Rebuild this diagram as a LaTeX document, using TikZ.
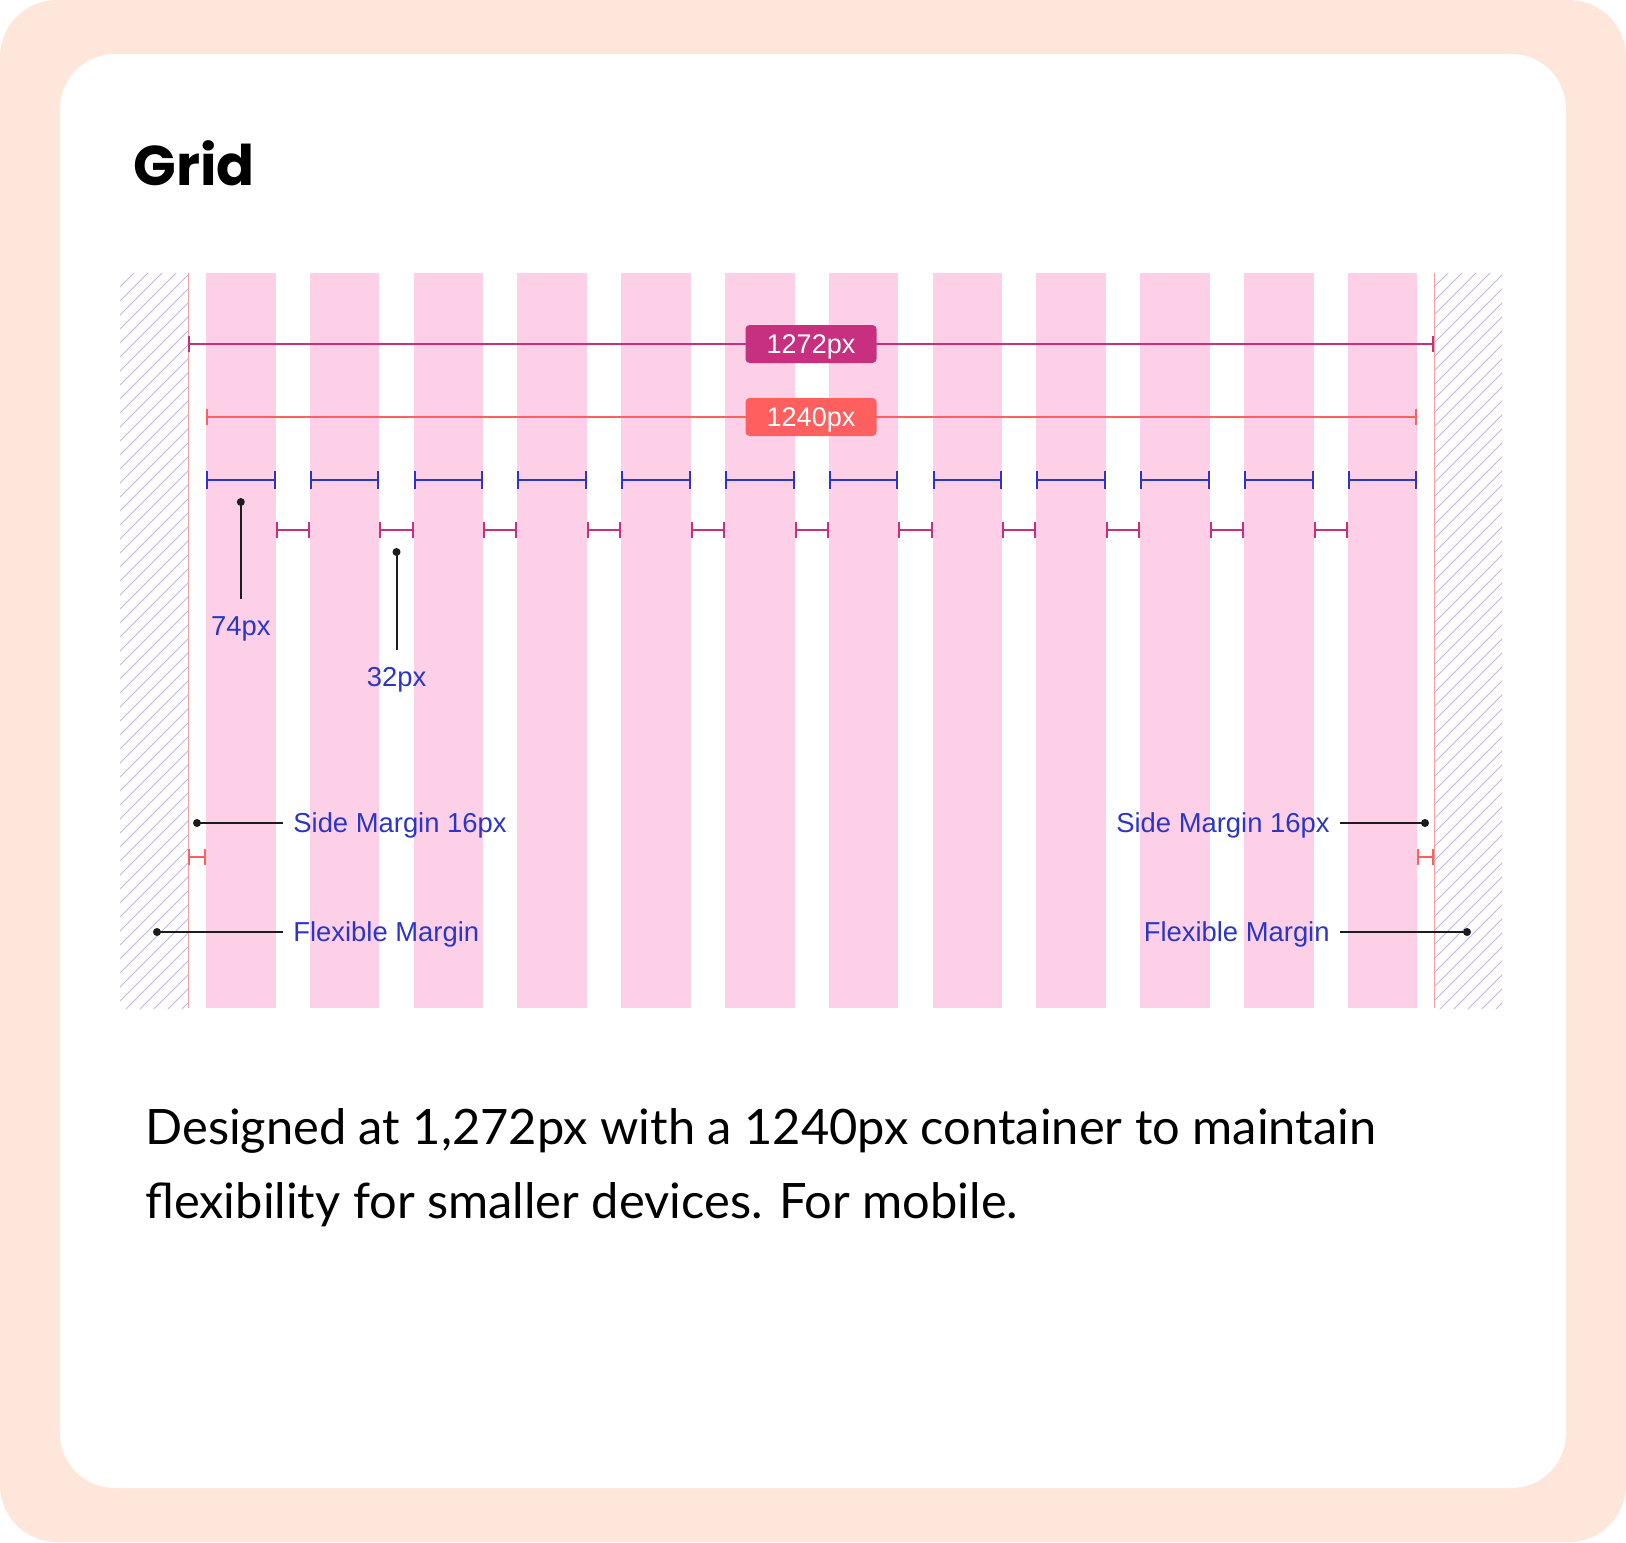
\documentclass[tikz,border=0pt]{standalone}
\usepackage{fontspec}
\setmainfont{Lato}
\newfontfamily\titlefont{Poppins}
\newfontfamily\labelfont{Liberation Sans}
\usetikzlibrary{arrows.meta,positioning}
\definecolor{peach}{HTML}{FEE6DB}
\definecolor{colpink}{HTML}{FDD0E8}
\definecolor{hatchpurple}{HTML}{C4B4EC}
\definecolor{edgered}{HTML}{F2A0A0}
\definecolor{dimmag}{HTML}{C6307E}
\definecolor{coral}{HTML}{FF5F5F}
\definecolor{colblue}{HTML}{2B36C8}
\definecolor{labelblue}{HTML}{2B36C6}
\definecolor{pinblack}{HTML}{1C1C1E}
\tikzset{
  colbar/.style={fill=colpink},
  hatchline/.style={draw=hatchpurple, line width=0.5pt},
  dimline/.style={line width=1pt, {Bar[width=8pt]}-{Bar[width=8pt]}},
  tag/.style={rounded corners=2pt, text=white, minimum width=65.5pt, minimum height=19pt, inner sep=0pt, text depth=0pt, font=\labelfont\fontsize{13.5}{13.5}\selectfont},
  lbl/.style={text=labelblue, font=\labelfont\fontsize{13.7}{14}\selectfont, text depth=0pt},
  pin/.style={circle, fill=pinblack, inner sep=0pt, minimum size=4pt},
  leader/.style={draw=pinblack, line width=1pt},
}
\begin{document}
\begin{tikzpicture}[x=0.5pt, y=-0.5pt]
  \useasboundingbox (0,0) rectangle (1626,1542);
  % Frame
  \fill[peach, rounded corners=28.5pt] (0,0) rectangle (1626,1542);
  \fill[white, rounded corners=27.5pt] (60,54) rectangle (1566,1488);
  \node[anchor=base west, inner sep=0pt, font=\titlefont\bfseries\fontsize{28}{28}\selectfont] (title) at (133,185) {Grid};

  % Flexible margins
  \begin{scope}
    \clip (120,273) rectangle (188,1008);
    \foreach \k in {0,...,58} \draw[hatchline] (120,{273+\k*14}) -- ++(90,-90);
  \end{scope}
  \begin{scope}
    \clip (1434,273) rectangle (1502,1008);
    \foreach \k in {0,...,58} \draw[hatchline] (1434,{273+\k*14}) -- ++(90,-90);
  \end{scope}
  \draw[edgered, line width=0.5pt] (188,273) -- (188,1008);
  \draw[edgered, line width=0.5pt] (1434,273) -- (1434,1008);

  % Columns
  \foreach \i in {0,...,11} \fill[colbar] ({206+\i*103.8},273) rectangle ++(69.6,735);

  % Widths
  \coordinate (l1272) at (188,344);
  \coordinate (r1272) at (1434,344);
  \draw[dimline, dimmag] (l1272) -- (r1272);
  \node[tag, fill=dimmag] (w1272) at (811,344) {1272px};
  \coordinate (l1240) at (206,417);
  \coordinate (r1240) at (1417.2,417);
  \draw[dimline, coral] (l1240) -- (r1240);
  \node[tag, fill=coral] (w1240) at (811,417) {1240px};

  % Column and gutter widths
  \foreach \i in {0,...,11} \draw[dimline, colblue, {Bar[width=9pt]}-{Bar[width=9pt]}] ({206+\i*103.8},480) -- ++(69.6,0);
  \foreach \i in {0,...,10} \draw[dimline, dimmag] ({275.6+\i*103.8},530) -- ++(34.2,0);

  % Pointers
  \node[pin] (p74) at (240.8,502) {};
  \coordinate (e74) at (240.8,599);
  \node[lbl, anchor=north, inner ysep=8.5pt] (t74) at (e74) {74px};
  \draw[leader] (p74.center) -- (e74);
  \node[pin] (p32) at (396.5,552) {};
  \coordinate (e32) at (396.5,650);
  \node[lbl, anchor=north, inner ysep=8.5pt] (t32) at (e32) {32px};
  \draw[leader] (p32.center) -- (e32);

  % Side margins
  \node[pin] (psl) at (197,823) {};
  \node[lbl, anchor=west, inner xsep=5pt] (tsl) at (283,823) {Side Margin 16px};
  \draw[leader] (psl.center) -- (tsl.west);
  \node[pin] (psr) at (1425,823) {};
  \node[lbl, anchor=east, inner xsep=5pt] (tsr) at (1340,823) {Side Margin 16px};
  \draw[leader] (tsr.east) -- (psr.center);
  \coordinate (lsl) at (188,857);
  \coordinate (rsl) at (206,857);
  \draw[dimline, coral] (lsl) -- (rsl);
  \coordinate (lsr) at (1417,857);
  \coordinate (rsr) at (1434,857);
  \draw[dimline, coral] (lsr) -- (rsr);

  % Flexible margin labels
  \node[pin] (pfl) at (157,932) {};
  \node[lbl, anchor=west, inner xsep=5pt] (tfl) at (283,932) {Flexible Margin};
  \draw[leader] (pfl.center) -- (tfl.west);
  \node[pin] (pfr) at (1467,932) {};
  \node[lbl, anchor=east, inner xsep=5pt] (tfr) at (1340,932) {Flexible Margin};
  \draw[leader] (tfr.east) -- (pfr.center);

  % Caption
  \node[anchor=base west, inner sep=0pt, font=\fontsize{24.4}{37}\selectfont] (cap1) at (145,1144) {Designed at 1,272px with a 1240px container to maintain};
  \node[anchor=base west, inner sep=0pt, font=\fontsize{24.4}{37}\selectfont] (cap2) at (145,1218) {flexibility for smaller devices. For mobile.};
\end{tikzpicture}
\end{document}
